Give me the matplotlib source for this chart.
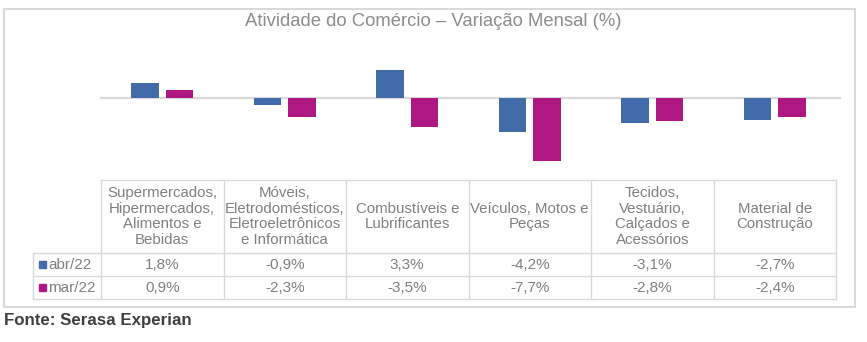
import matplotlib
matplotlib.use("Agg")
import matplotlib.pyplot as plt
from matplotlib.patches import Rectangle
import numpy as np

plt.rcParams['font.family'] = ['Liberation Sans', 'DejaVu Sans']

# data
categories = [
    "Supermercados,\nHipermercados,\nAlimentos e\nBebidas",
    "Móveis,\nEletrodomésticos,\nEletroeletrônicos\ne Informática",
    "Combustíveis e\nLubrificantes",
    "Veículos, Motos e\nPeças",
    "Tecidos,\nVestuário,\nCalçados e\nAcessórios",
    "Material de\nConstrução",
]
series_names = ["abr/22", "mar/22"]
abr22 = [1.8, -0.9, 3.3, -4.2, -3.1, -2.7]
mar22 = [0.9, -2.3, -3.5, -7.7, -2.8, -2.4]
colors = ["#416BA9", "#AF1782"]

W, H = 867, 342
fig = plt.figure(figsize=(W / 100, H / 100), dpi=100)

def px_axes(x0, y0, x1, y1):
    # axes from pixel box (top-left origin)
    return fig.add_axes([x0 / W, 1 - y1 / H, (x1 - x0) / W, (y1 - y0) / H])

# table geometry (pixels)
col_x0, col_w = 101, 122.5
n = len(categories)
leg_x0 = 33
head_top, row1_top, row2_top, tab_bot = 180, 253, 276, 299

# bar chart
ax = px_axes(col_x0, 35, col_x0 + n * col_w, 175)
x = np.arange(n)
bw = 0.224
off = 0.142
for vals, c, dx in zip([abr22, mar22], colors, [-off, off]):
    ax.bar(x + dx, vals, width=bw, color=c, zorder=3)
ax.axhline(0, color="#d9d9d9", lw=1.6, zorder=2, xmin=0, xmax=1.005, clip_on=False)
ax.set_xlim(-0.5, n - 0.5)
ax.set_ylim(-9.37, 7.6)
ax.axis("off")

# overlay for border, title and table
ov = fig.add_axes([0, 0, 1, 1])
ov.set_xlim(0, W)
ov.set_ylim(H, 0)
ov.axis("off")
ov.patch.set_alpha(0)

ov.add_patch(Rectangle((4, 9), 851, 298, fill=False, ec="#d9d9d9", lw=1.5))
ov.text(433, 21, "Atividade do Comércio – Variação Mensal (%)", ha="center", va="center",
        fontsize=13.3, color="#8c8c8c")

lc = "#d9d9d9"
xr = col_x0 + n * col_w
for i in range(n + 1):
    ov.plot([col_x0 + i * col_w] * 2, [head_top, tab_bot], color=lc, lw=1)
ov.plot([col_x0, xr], [head_top] * 2, color=lc, lw=1)
for yy in [row1_top, row2_top, tab_bot]:
    ov.plot([leg_x0, xr], [yy] * 2, color=lc, lw=1)
ov.plot([leg_x0] * 2, [row1_top, tab_bot], color=lc, lw=1)

tc = "#808080"
for i, cat in enumerate(categories):
    ov.text(col_x0 + (i + 0.5) * col_w, (head_top + row1_top) / 2, cat, ha="center", va="center",
            fontsize=10.8, color=tc, linespacing=1.17)

rows = [(row1_top, row2_top), (row2_top, tab_bot)]
for (y0, y1), name, vals, c in zip(rows, series_names, [abr22, mar22], colors):
    yc = (y0 + y1) / 2
    ov.add_patch(Rectangle((39, yc - 3.5), 6.5, 6.5, color=c))
    ov.text(48.5, yc + 0.5, name, ha="left", va="center", fontsize=11, color=tc)
    for i, v in enumerate(vals):
        ov.text(col_x0 + (i + 0.5) * col_w, yc + 0.5, f"{v:.1f}%".replace(".", ","),
                ha="center", va="center", fontsize=11, color=tc)

ov.text(4, 321, "Fonte: Serasa Experian", ha="left", va="center", fontsize=12.2,
        fontweight="bold", color="#404040")

fig.savefig("out.png", dpi=100)
